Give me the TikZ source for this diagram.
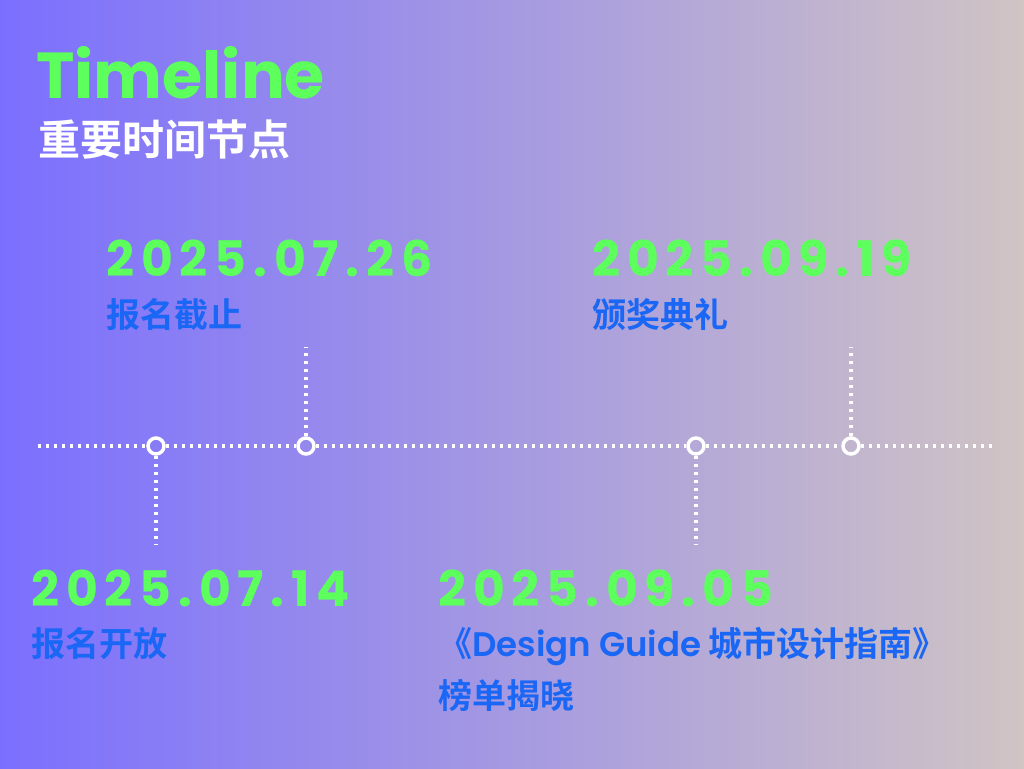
\documentclass[tikz,border=0pt]{standalone}
\usepackage{fontspec}
\setmainfont{Poppins}
\newfontfamily\datefont[LetterSpace=14]{Poppins Bold}
\newfontfamily\titlefont{Poppins Bold}
\newfontfamily\latinb{Poppins SemiBold}
\newfontfamily\cjk{Noto Sans CJK SC Bold}
\definecolor{lgreen}{HTML}{5CFF5C}
\definecolor{lblue}{HTML}{1A66F5}
\begin{document}
\begin{tikzpicture}[x=1pt,y=-1pt,
  date/.style={anchor=base west,inner sep=0,text=lgreen,font=\datefont\fontsize{49}{50}\selectfont},
  lab/.style={anchor=base west,inner sep=0,text=lblue,font=\cjk\fontsize{34}{40}\selectfont,align=left},
  dot/.style={circle,draw=white,line width=3.5pt,minimum size=16pt,inner sep=0},
  dl/.style={white,line width=3.2pt,dash pattern=on 3pt off 5pt}]
\shade[left color={rgb,255:red,123;green,111;blue,255},right color={rgb,255:red,208;green,196;blue,196}] (0,0) rectangle (1024,768);
\useasboundingbox (0,0) rectangle (1024,768);
\node[anchor=base west,inner sep=0,text=lgreen,font=\titlefont\fontsize{65}{70}\selectfont] (title) at (36,98) {Timeline};
\node[anchor=base west,inner sep=0,text=white,font=\cjk\fontsize{42}{46}\selectfont] (sub) at (38,155) {重要时间节点};
\coordinate (L) at (38,446); \coordinate (R) at (992,446);
\node[dot] (c1) at (156,446) {};
\node[dot] (c2) at (306,446) {};
\node[dot] (c3) at (696,446) {};
\node[dot] (c4) at (851,446) {};
\coordinate (e1) at (156,545); \coordinate (e2) at (306,347);
\coordinate (e3) at (696,545); \coordinate (e4) at (851,347);
\draw[dl] (L) -- (c1); \draw[dl] (c1) -- (c2); \draw[dl] (c2) -- (c3); \draw[dl] (c3) -- (c4); \draw[dl] (c4) -- (R);
\draw[dl] (c1) -- (e1); \draw[dl] (c2) -- (e2); \draw[dl] (c3) -- (e3); \draw[dl] (c4) -- (e4);
\node[date] (d2) at (106,276) {2025.07.26};
\node[lab] (l2) at (106,327) {报名截止};
\node[date] (d4) at (592,276) {2025.09.19};
\node[lab] (l4) at (592,327) {颁奖典礼};
\node[date] (d1) at (31,606) {2025.07.14};
\node[lab] (l1) at (31,656) {报名开放};
\node[date] (d3) at (438,606) {2025.09.05};
\node[lab] (l3) at (438,656) {《{\latinb Design Guide} 城市设计指南》};
\node[lab] (l3b) at (438,708) {榜单揭晓};
\end{tikzpicture}
\end{document}
